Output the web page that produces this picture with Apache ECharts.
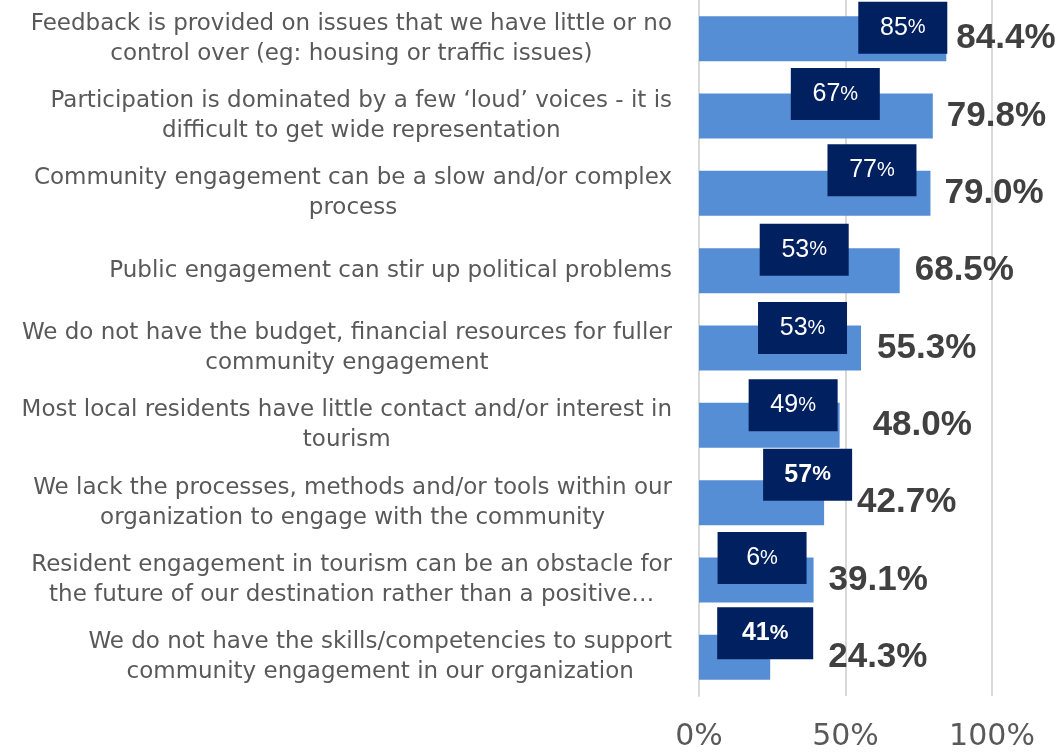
<!DOCTYPE html>
<html>
<head>
<meta charset="utf-8">
<script src="https://cdn.jsdelivr.net/npm/echarts@6/dist/echarts.min.js"></script>
<style>
  html, body { margin: 0; padding: 0; background: #ffffff; }
  #chart { width: 1061px; height: 753px; }
</style>
</head>
<body>
<div id="chart"></div>
<script>
// Barriers to community engagement, top to bottom
const categories = [
  "Feedback is provided on issues that we have little or no\ncontrol over (eg: housing or traffic issues)",
  "Participation is dominated by a few \u2018loud\u2019 voices - it is\ndifficult to get wide representation",
  "Community engagement can be a slow and/or complex\nprocess",
  "Public engagement can stir up political problems",
  "We do not have the budget, financial resources for fuller\ncommunity engagement",
  "Most local residents have little contact and/or interest in\ntourism",
  "We lack the processes, methods and/or tools within our\norganization to engage with the community",
  "Resident engagement in tourism can be an obstacle for\nthe future of our destination rather than a positive\u2026",
  "We do not have the skills/competencies to support\ncommunity engagement in our organization"
];

// Share of respondents (%)
const shares = [84.4, 79.8, 79.0, 68.5, 55.3, 48.0, 42.7, 39.1, 24.3];

// Comparison figures shown in the dark callout boxes (%)
const comparison = [85, 67, 77, 53, 53, 49, 57, 6, 41];

// Axis tick labels
const tickValues = [0, 50, 100];
const tickLabels = ["0%", "50%", "100%"];

// ---- layout / styling ----
const BAR_COLOR = "#558ed5";
const BOX_COLOR = "#002060";
const GRID_COLOR = "#d9d9d9";

// label nudges (px) relative to each bar end
const valueNudge = [10, 14, 14, 15, 16, 33, 33, 15, 58];
const boxNudge = [
  [1, -11], [-53, -22], [-14, -23], [-51, -21], [-14, -20],
  [-2, -20], [28, -28], [-7, -22], [43, -24]
];
const boxWidth = [89, 89, 89, 89, 89, 89, 89, 89, 96];
const boldBoxes = new Set([6, 8]);

const chart = echarts.init(document.getElementById("chart"), null, { renderer: "canvas" });

const valueData = shares.map((v, i) => ({
  value: v,
  label: { offset: [valueNudge[i], 0] }
}));

const boxData = shares.map((v, i) => ({
  value: v,
  label: {
    offset: boxNudge[i],
    width: boxWidth[i],
    formatter: boldBoxes.has(i) ? "{nb|" + comparison[i] + "}{pb|%}" : "{n|" + comparison[i] + "}{p|%}"
  }
}));

const boxFont = "Liberation Sans, Arial, sans-serif";
const boxRich = {
  n:  { color: "#fff", fontFamily: boxFont, fontSize: 25, align: "center", lineHeight: 52 },
  p:  { color: "#fff", fontFamily: boxFont, fontSize: 20, align: "center", lineHeight: 52 },
  nb: { color: "#fff", fontFamily: boxFont, fontSize: 25, fontWeight: "bold", align: "center", lineHeight: 52 },
  pb: { color: "#fff", fontFamily: boxFont, fontSize: 21, fontWeight: "bold", align: "center", lineHeight: 52 }
};

chart.setOption({
  animation: false,
  grid: { left: 699, right: 69, top: -1, bottom: 57, containLabel: false },
  xAxis: {
    type: "value",
    min: 0,
    max: 100,
    interval: 50,
    axisLine: { show: false },
    axisTick: { show: false },
    splitLine: { show: true, lineStyle: { color: GRID_COLOR, width: 2 } },
    axisLabel: {
      margin: 26,
      color: "#595959",
      fontFamily: "DejaVu Sans, sans-serif",
      fontSize: 30,
      formatter: (val) => {
        const k = tickValues.indexOf(val);
        return k >= 0 ? tickLabels[k] : "";
      }
    }
  },
  yAxis: {
    type: "category",
    inverse: true,
    data: categories,
    axisLine: { show: true, lineStyle: { color: GRID_COLOR, width: 2 } },
    axisTick: { show: false },
    axisLabel: {
      margin: 27,
      align: "right",
      formatter: (val) => val.split("\n").map(line => "{c|" + line + "}").join("\n"),
      rich: {
        c: {
          color: "#595959",
          fontFamily: "DejaVu Sans, sans-serif",
          fontSize: 23,
          lineHeight: 30,
          align: "center"
        }
      }
    }
  },
  series: [
    {
      name: "Share",
      type: "bar",
      data: valueData,
      barWidth: 45,
      barGap: "-100%",
      itemStyle: { color: BAR_COLOR },
      label: {
        show: true,
        position: "right",
        distance: 0,
        color: "#404040",
        fontFamily: "Liberation Sans, Arial, sans-serif",
        fontWeight: "bold",
        fontSize: 35,
        formatter: (p) => p.value.toFixed(1) + "%"
      },
      z: 2
    },
    {
      name: "Comparison",
      type: "bar",
      data: boxData,
      barWidth: 45,
      barGap: "-100%",
      silent: true,
      itemStyle: { color: "rgba(0,0,0,0)" },
      label: {
        show: true,
        position: "insideRight",
        distance: 0,
        width: 89,
        height: 52,
        backgroundColor: BOX_COLOR,
        rich: boxRich
      },
      z: 3
    }
  ]
});
</script>
</body>
</html>
